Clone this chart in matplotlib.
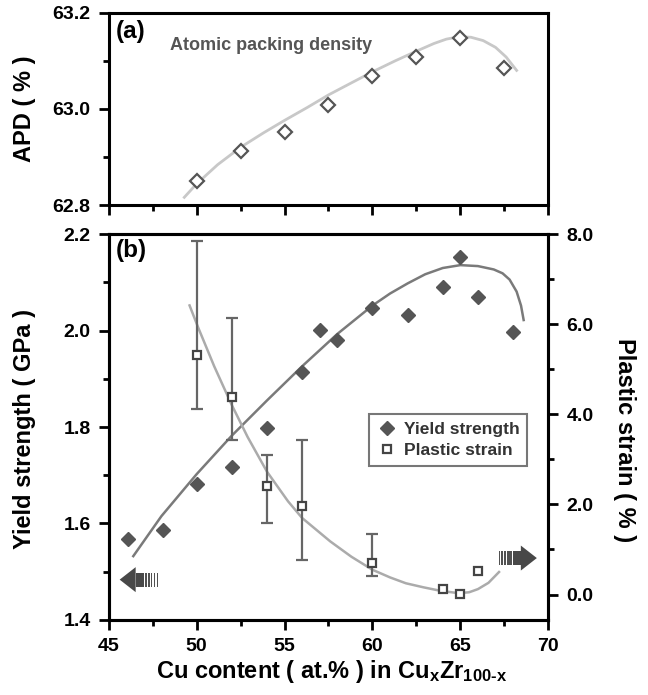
import matplotlib
matplotlib.use('Agg')
import matplotlib.pyplot as plt
from matplotlib.lines import Line2D
from matplotlib.patches import Polygon, Rectangle
from matplotlib.ticker import MultipleLocator, FormatStrFormatter

plt.rcParams['font.family'] = ['Liberation Sans', 'DejaVu Sans']
plt.rcParams['font.weight'] = 'bold'
plt.rcParams['mathtext.fontset'] = 'custom'
plt.rcParams['mathtext.rm'] = 'Liberation Sans:bold'
plt.rcParams['mathtext.bf'] = 'Liberation Sans:bold'
plt.rcParams['mathtext.it'] = 'Liberation Sans:bold'

# (a) atomic packing density
apd_x = [50.0, 52.5, 55.0, 57.5, 60.0, 62.5, 65.0, 67.5]
apd_y = [62.849, 62.912, 62.951, 63.008, 63.068, 63.107, 63.148, 63.086]
apd_fit_x = [49.3, 50.0, 51.2, 52.5, 53.8, 55.0, 56.3, 57.5, 58.8, 60.0, 61.3, 62.5,
             63.5, 64.2, 64.9, 65.6, 66.3, 67.0, 67.6, 68.2]
apd_fit_y = [62.816, 62.844, 62.884, 62.920, 62.950, 62.976, 63.003, 63.029, 63.054,
             63.077, 63.100, 63.120, 63.136, 63.145, 63.150, 63.149, 63.142, 63.128,
             63.108, 63.080]

# (b) yield strength (GPa)
ys_x = [46.1, 48.1, 50.0, 52.0, 54.0, 56.0, 57.0, 58.0, 60.0, 62.0, 64.0, 65.0, 66.0, 68.0]
ys_y = [1.567, 1.586, 1.682, 1.716, 1.797, 1.914, 2.001, 1.981, 2.048, 2.033, 2.090,
        2.152, 2.070, 1.998]
ys_fit_x = [46.4, 48.0, 50.0, 52.0, 54.0, 56.0, 58.0, 60.0, 61.0, 62.0, 63.0, 64.0,
            65.0, 66.0, 66.9, 67.4, 67.8, 68.2, 68.45, 68.6]
ys_fit_y = [1.532, 1.615, 1.702, 1.782, 1.855, 1.926, 1.993, 2.052, 2.077, 2.098, 2.117,
            2.130, 2.136, 2.134, 2.127, 2.119, 2.106, 2.081, 2.052, 2.022]

# (b) plastic strain (%)
ps_x = [50.0, 52.0, 54.0, 56.0, 60.0, 64.0, 65.0, 66.0]
ps_y = [5.31, 4.38, 2.41, 1.96, 0.70, 0.12, 0.01, 0.52]
ps_err_x = [50.0, 52.0, 54.0, 56.0, 60.0]
ps_err_y = [5.31, 4.38, 2.41, 1.96, 0.70]
ps_err_lo = [4.13, 3.43, 1.58, 0.76, 0.42]
ps_err_hi = [7.86, 6.14, 3.09, 3.43, 1.35]
ps_fit_x = [49.6, 50.1, 51.0, 52.0, 52.9, 54.0, 55.2, 56.0, 57.6, 58.8, 60.0, 61.0,
            61.9, 62.9, 63.9, 64.9, 65.5, 66.0, 66.6, 67.2]
ps_fit_y = [6.42, 5.92, 5.07, 4.21, 3.50, 2.73, 2.07, 1.70, 1.18, 0.84, 0.55, 0.38,
            0.25, 0.16, 0.08, 0.03, 0.05, 0.12, 0.26, 0.50]

DARK = '#555555'


def style_axis(a):
    for s in a.spines.values():
        s.set_linewidth(2.2)
    a.tick_params(which='major', direction='out', length=7, width=2, labelsize=14, pad=6)
    a.tick_params(which='minor', direction='out', length=4, width=2)


def block_arrow(a, tip_x, tip_y, direction):
    # tip position in axes fraction, direction -1 points left, +1 points right
    fig = a.figure
    pos = a.get_position()
    px = 1.0 / (pos.width * fig.get_figwidth() * fig.dpi)
    py = 1.0 / (pos.height * fig.get_figheight() * fig.dpi)
    back = -direction
    tr = a.transAxes
    head_len, head_h, tail_h = 16 * px, 12.5 * py, 7 * py
    base = tip_x + back * head_len
    a.add_patch(Polygon([(tip_x, tip_y), (base, tip_y + head_h), (base, tip_y - head_h)],
                        closed=True, transform=tr, fc='#484848', ec='none', clip_on=False))
    solid = 8 * px
    a.add_patch(Rectangle((min(base, base + back * solid), tip_y - tail_h), solid, 2 * tail_h,
                          transform=tr, fc='#484848', ec='none', clip_on=False))
    start = base + back * solid
    for i in range(5):
        w = (2.4 - 0.3 * i) * px
        x0 = start + back * (1.0 * px + i * 3.0 * px)
        a.add_patch(Rectangle((min(x0, x0 + back * w), tip_y - tail_h), w, 2 * tail_h,
                              transform=tr, fc='#525252', ec='none', clip_on=False))


fig = plt.figure(figsize=(6.48, 6.95), dpi=100)
ax_top = fig.add_axes([0.1677, 0.7050, 0.6784, 0.2767])
ax = fig.add_axes([0.1677, 0.1083, 0.6784, 0.5546])
ax2 = ax.twinx()

# ---- panel (a)
ax_top.plot(apd_fit_x, apd_fit_y, color='#c8c8c8', lw=2, zorder=2, solid_joinstyle='round')
ax_top.plot(apd_x, apd_y, ls='none', marker='D', ms=7.5, mfc='white', mec=DARK, mew=1.6, zorder=3)
ax_top.set_xlim(45, 70)
ax_top.set_ylim(62.8, 63.2)
ax_top.xaxis.set_major_locator(MultipleLocator(5))
ax_top.xaxis.set_minor_locator(MultipleLocator(2.5))
ax_top.yaxis.set_major_locator(MultipleLocator(0.2))
ax_top.yaxis.set_minor_locator(MultipleLocator(0.1))
ax_top.yaxis.set_major_formatter(FormatStrFormatter('%.1f'))
ax_top.tick_params(axis='x', labelbottom=False)
style_axis(ax_top)
ax_top.set_ylabel('APD ( % )', fontsize=17, fontweight='bold')
ax_top.yaxis.set_label_coords(-0.165, 0.5)
ax_top.text(0.016, 0.96, '(a)', transform=ax_top.transAxes, fontsize=17.5,
            fontweight='bold', va='top', ha='left')
ax_top.text(0.139, 0.827, 'Atomic packing density', transform=ax_top.transAxes,
            fontsize=13, fontweight='bold', color='#555555', va='center', ha='left')

# ---- panel (b)
ax.plot(ys_fit_x, ys_fit_y, color='#7a7a7a', lw=1.8, zorder=2, solid_joinstyle='round')
ax.plot(ys_x, ys_y, ls='none', marker='D', ms=7.5, mfc=DARK, mec=DARK, zorder=3)
ax.set_xlim(45, 70)
ax.set_ylim(1.4, 2.2)
ax.xaxis.set_major_locator(MultipleLocator(5))
ax.xaxis.set_minor_locator(MultipleLocator(2.5))
ax.yaxis.set_major_locator(MultipleLocator(0.2))
ax.yaxis.set_minor_locator(MultipleLocator(0.1))
ax.yaxis.set_major_formatter(FormatStrFormatter('%.1f'))
style_axis(ax)
ax.set_ylabel('Yield strength ( GPa )', fontsize=17, fontweight='bold')
ax.yaxis.set_label_coords(-0.165, 0.495)
ax.set_xlabel(r'Cu content ( at.% ) in Cu$_{\mathbf{x}}$Zr$_{\mathbf{100\text{-}x}}$',
              fontsize=17, fontweight='bold')
ax.xaxis.set_label_coords(0.506, -0.099)
ax.text(0.016, 0.988, '(b)', transform=ax.transAxes, fontsize=17.5,
        fontweight='bold', va='top', ha='left')

ax2.plot(ps_fit_x, ps_fit_y, color='#ababab', lw=1.8, zorder=2, solid_joinstyle='round')
ax2.errorbar(ps_err_x, ps_err_y,
             yerr=[[v - lo for v, lo in zip(ps_err_y, ps_err_lo)],
                   [hi - v for v, hi in zip(ps_err_y, ps_err_hi)]],
             fmt='none', ecolor='#666666', elinewidth=1.6, capsize=4.3, capthick=1.6, zorder=3)
ax2.plot(ps_x, ps_y, ls='none', marker='s', ms=6, mfc='white', mec='#444444', mew=1.6, zorder=4)
ax2.set_ylim(-0.56, 8.0)
ax2.yaxis.set_major_locator(MultipleLocator(2))
ax2.yaxis.set_minor_locator(MultipleLocator(1))
ax2.yaxis.set_major_formatter(FormatStrFormatter('%.1f'))
style_axis(ax2)
ax2.set_ylabel('Plastic strain ( % )', fontsize=17, fontweight='bold', rotation=270, va='bottom')
ax2.yaxis.set_label_coords(1.147, 0.466)

handles = [Line2D([], [], ls='none', marker='D', ms=7.5, mfc=DARK, mec=DARK),
           Line2D([], [], ls='none', marker='s', ms=6, mfc='white', mec='#444444', mew=1.6)]
leg = ax2.legend(handles, ['Yield strength', 'Plastic strain'], loc='upper right',
                 bbox_to_anchor=(0.972, 0.556), fancybox=False, framealpha=1,
                 edgecolor='#777777', prop={'size': 12.5, 'weight': 'bold'},
                 handletextpad=0.35, handlelength=1.2, borderpad=0.45, labelspacing=0.35)
leg.get_frame().set_linewidth(1.5)
for t in leg.get_texts():
    t.set_color('#333333')

block_arrow(ax2, 0.025, 0.104, -1)
block_arrow(ax2, 0.974, 0.160, 1)

fig.savefig('out.png', dpi=100)
